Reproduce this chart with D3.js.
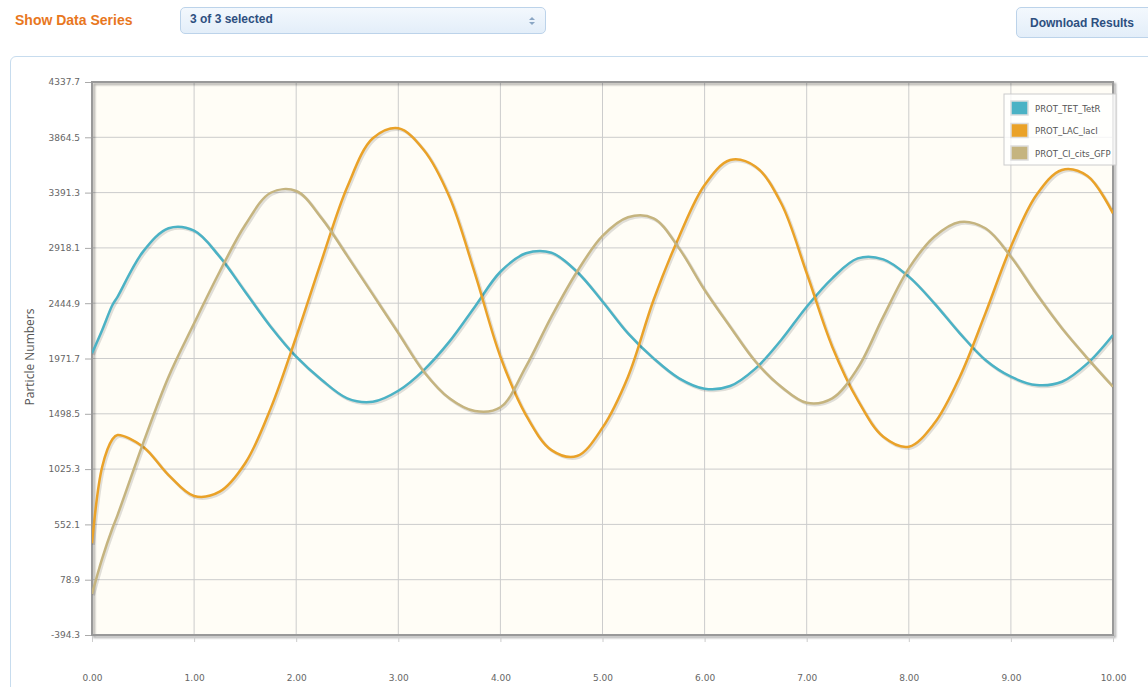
<!DOCTYPE html>
<meta charset="utf-8">
<style>
body { margin: 0; background: #fff; font-family: "Liberation Sans", Arial, sans-serif; }
.top { position: absolute; left: 0; top: 0; width: 1148px; height: 50px; }
.label { position: absolute; left: 15px; top: 12px; color: #e8771e; font-weight: bold; font-size: 14px; }
.select { position: absolute; left: 180px; top: 7px; width: 366px; height: 27px; border: 1px solid #bcd3ea;
  border-radius: 5px; background: linear-gradient(#f3f8fd, #e3eef9); box-sizing: border-box; }
.select span { position: absolute; left: 9px; top: 4px; font-size: 12px; font-weight: bold; color: #2d4f7f; }
.arr { position: absolute; right: 10px; width: 0; height: 0; border-left: 3px solid transparent; border-right: 3px solid transparent; }
.arr.up { top: 9px; border-bottom: 3px solid #8aa6c4; }
.arr.dn { top: 14px; border-top: 3px solid #8aa6c4; }
.btn { position: absolute; left: 1016px; top: 7px; width: 150px; height: 31px; border: 1px solid #bcd3ea;
  border-radius: 5px; background: linear-gradient(#f3f8fd, #e3eef9); box-sizing: border-box; }
.btn span { position: absolute; left: 13px; top: 8px; font-size: 12px; font-weight: bold; color: #2d4f7f; }
.panel { position: absolute; left: 10px; top: 56px; width: 1160px; height: 660px; border: 1px solid #c7dcee;
  border-radius: 6px; box-sizing: border-box; }
svg { position: absolute; left: 0; top: 0; }
.tick text { font-family: "DejaVu Sans", sans-serif; font-size: 9px; fill: #666; }
.line { fill: none; stroke-width: 2.5px; }
</style>
<body>
<div class="top">
  <div class="label">Show Data Series</div>
  <div class="select"><span>3 of 3 selected</span><div class="arr up"></div><div class="arr dn"></div></div>
  <div class="btn"><span>Download Results</span></div>
</div>
<div class="panel"></div>
<script src="https://d3js.org/d3.v7.min.js"></script>
<script>

// time points
var times = [0, 0.1, 0.2, 0.25, 0.5, 0.75, 1, 1.25, 1.5, 1.75, 2, 2.25, 2.5, 2.75, 3, 3.25, 3.5, 3.75,
  4, 4.25, 4.5, 4.75, 5, 5.25, 5.5, 5.75, 6, 6.25, 6.5, 6.75, 7, 7.25, 7.5, 7.75, 8, 8.25, 8.5, 8.75,
  9, 9.25, 9.5, 9.75, 10];

var tetR = [2016, 2216, 2429, 2500, 2886, 3086, 3065, 2843, 2543, 2244, 1987, 1788, 1631, 1602, 1696,
  1873, 2116, 2415, 2714, 2872, 2877, 2714, 2460, 2187, 1973, 1802, 1713, 1736, 1887, 2130, 2415, 2658,
  2828, 2820, 2672, 2444, 2187, 1959, 1816, 1745, 1773, 1930, 2173];

var lacI = [390, 1046, 1280, 1317, 1217, 974, 795, 832, 1075, 1545, 2158, 2814, 3440, 3856, 3942,
  3756, 3356, 2701, 1987, 1488, 1188, 1137, 1380, 1816, 2472, 3014, 3456, 3670, 3613, 3300, 2701, 2073,
  1615, 1302, 1217, 1417, 1816, 2358, 2928, 3371, 3585, 3533, 3214];

var gfp = [-43, 262, 519, 632, 1246, 1816, 2273, 2714, 3114, 3390, 3405, 3171, 2850, 2520, 2190,
  1859, 1631, 1522, 1554, 1902, 2330, 2714, 3020, 3180, 3171, 2914, 2558, 2244, 1944, 1730, 1593, 1631,
  1890, 2330, 2743, 3014, 3140, 3086, 2843, 2525, 2230, 1973, 1730];

var seriesNames = ["PROT_TET_TetR", "PROT_LAC_lacI", "PROT_CI_cits_GFP"];
var seriesColors = ["#4bb2c5", "#EAA228", "#c5b47f"];
var seriesValues = [tetR, lacI, gfp];

var yTicks = [-394.3, 78.9, 552.1, 1025.3, 1498.5, 1971.7, 2444.9, 2918.1, 3391.3, 3864.5, 4337.7];
var xTicks = [0, 1, 2, 3, 4, 5, 6, 7, 8, 9, 10];

var plot = {left: 92, right: 1113, top: 82, bottom: 635};

var x = d3.scaleLinear().domain([0, 10]).range([plot.left, plot.right]);
var y = d3.scaleLinear().domain([-394.3, 4337.7]).range([plot.bottom, plot.top]);

var svg = d3.select("body").append("svg")
    .attr("width", 1148)
    .attr("height", 687);

// shadow for the border
var defs = svg.append("defs");
var f = defs.append("filter").attr("id", "shd").attr("x", "-5%").attr("y", "-5%").attr("width", "110%").attr("height", "110%");
f.append("feGaussianBlur").attr("in", "SourceAlpha").attr("stdDeviation", 1.2);
f.append("feOffset").attr("dx", 1.5).attr("dy", 1.5).attr("result", "b");
f.append("feComponentTransfer").append("feFuncA").attr("type", "linear").attr("slope", 0.35);
var m = f.append("feMerge");
m.append("feMergeNode");
m.append("feMergeNode").attr("in", "SourceGraphic");

// background
svg.append("rect")
    .attr("x", plot.left).attr("y", plot.top)
    .attr("width", plot.right - plot.left).attr("height", plot.bottom - plot.top)
    .attr("fill", "#fffdf6");

// grid
svg.append("g").selectAll("line").data(yTicks).enter().append("line")
    .attr("x1", plot.left).attr("x2", plot.right)
    .attr("y1", function(d) { return y(d); }).attr("y2", function(d) { return y(d); })
    .attr("stroke", "#cccccc");
svg.append("g").selectAll("line").data(xTicks).enter().append("line")
    .attr("y1", plot.top).attr("y2", plot.bottom)
    .attr("x1", function(d) { return x(d); }).attr("x2", function(d) { return x(d); })
    .attr("stroke", "#cccccc");

// border
svg.append("rect")
    .attr("x", plot.left).attr("y", plot.top)
    .attr("width", plot.right - plot.left).attr("height", plot.bottom - plot.top)
    .attr("fill", "none").attr("stroke", "#999999").attr("stroke-width", 2)
    .attr("filter", "url(#shd)");

// axes
var yAxis = svg.append("g")
    .attr("transform", "translate(" + (plot.left - 1) + ",0)")
    .call(d3.axisLeft(y).tickValues(yTicks).tickSize(6).tickPadding(5)
      .tickFormat(function(d) { return d.toFixed(1); }));
yAxis.select(".domain").remove();
yAxis.selectAll(".tick line").attr("stroke", "#aaa");

var xAxis = svg.append("g")
    .attr("transform", "translate(0," + (plot.bottom + 1) + ")")
    .call(d3.axisBottom(x).tickValues(xTicks).tickSize(6).tickPadding(33)
      .tickFormat(function(d) { return d.toFixed(2); }));
xAxis.select(".domain").remove();
xAxis.selectAll(".tick line").attr("stroke", "#ccc");

svg.append("text")
    .attr("transform", "translate(34,357) rotate(-90)")
    .attr("text-anchor", "middle")
    .attr("font-family", "'Open Sans', sans-serif")
    .attr("font-size", 12)
    .attr("fill", "#555")
    .text("Particle Numbers");

// lines
var valueline = d3.line()
    .x(function(d, i) { return x(times[i]); })
    .y(function(d) { return y(d); })
    .curve(d3.curveCatmullRom.alpha(0.5));

var clip = defs.append("clipPath").attr("id", "clp");
clip.append("rect").attr("x", plot.left).attr("y", plot.top)
    .attr("width", plot.right - plot.left).attr("height", plot.bottom - plot.top);

var lines = svg.append("g").attr("clip-path", "url(#clp)");
seriesValues.forEach(function(vals, k) {
  lines.append("path")
      .datum(vals)
      .attr("class", "line")
      .attr("transform", "translate(1.5,1.5)")
      .style("stroke", "rgba(0,0,0,0.12)")
      .style("stroke-width", "3px")
      .attr("d", valueline);
  lines.append("path")
      .datum(vals)
      .attr("class", "line")
      .style("stroke", seriesColors[k])
      .attr("d", valueline);
});

// legend
var lg = svg.append("g").attr("transform", "translate(1004,94)");
lg.append("rect").attr("width", 112).attr("height", 71)
    .attr("fill", "rgba(255,255,255,0.8)").attr("stroke", "#cccccc");
seriesNames.forEach(function(name, k) {
  var row = lg.append("g").attr("transform", "translate(0," + (7 + k * 22.5) + ")");
  row.append("rect").attr("x", 7).attr("y", 0).attr("width", 17).attr("height", 14)
      .attr("fill", seriesColors[k]).attr("stroke", "#ddd").attr("stroke-width", 1.5);
  row.append("text").attr("x", 31).attr("y", 10.5)
      .attr("font-family", "'DejaVu Sans', sans-serif").attr("font-size", 8.5).attr("fill", "#555")
      .text(name);
});

</script>
</body>
